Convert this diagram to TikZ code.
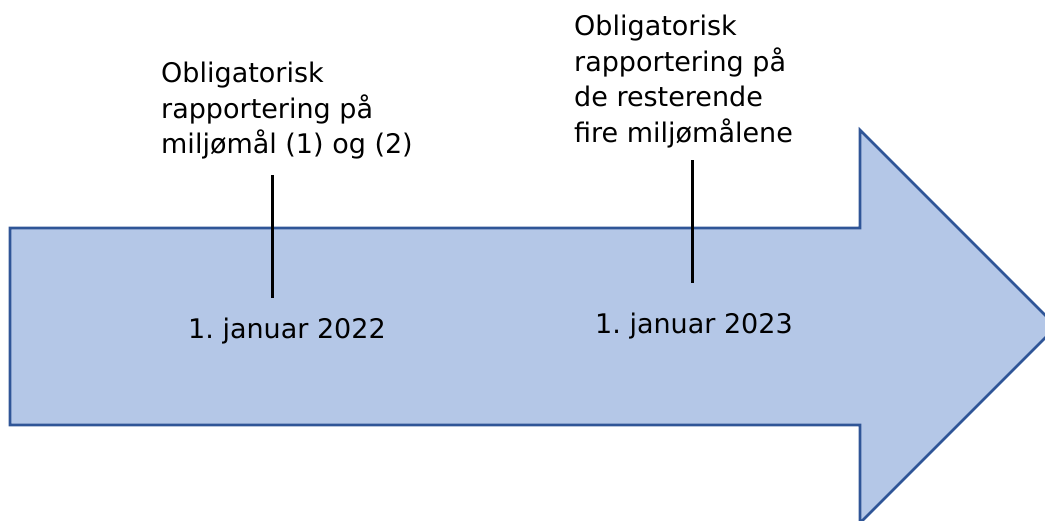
\documentclass[tikz,border=0pt]{standalone}
\usepackage{fontspec}
\setmainfont{DejaVu Sans}
\frenchspacing
\definecolor{arrowfill}{HTML}{B4C7E7}
\definecolor{arrowline}{HTML}{2F5597}
\begin{document}
\begin{tikzpicture}[x=1pt,y=-1pt,
  lbl/.style={font=\fontsize{27}{35.8}\selectfont, inner sep=0pt, align=left, text=black},
  tick/.style={draw=black, line width=2.5pt}]
\useasboundingbox (0,0) rectangle (1045,520);
\clip (0,0) rectangle (1045,520);
\draw[fill=arrowfill, draw=arrowline, line width=2.6pt, line join=miter]
  (10,228) -- (860,228) -- (860,130) -- (1056.5,326.5) -- (860,523) -- (860,425) -- (10,425) -- cycle;
\coordinate (t1a) at (272.5,175);
\coordinate (t1b) at (272.5,298);
\coordinate (t2a) at (692.5,160);
\coordinate (t2b) at (692.5,283);
\draw[tick] (t1a) -- (t1b);
\draw[tick] (t2a) -- (t2b);
\node[lbl, anchor=north west] (l1) at (161,61.5) {Obligatorisk\\rapportering på\\miljømål (1) og (2)};
\node[lbl, anchor=north west] (l2) at (574,14.5) {Obligatorisk\\rapportering på\\de resterende\\fire miljømålene};
\node[lbl, anchor=base west] (d1) at (188,338) {1. januar 2022};
\node[lbl, anchor=base west] (d2) at (595,333) {1. januar 2023};
\end{tikzpicture}
\end{document}
